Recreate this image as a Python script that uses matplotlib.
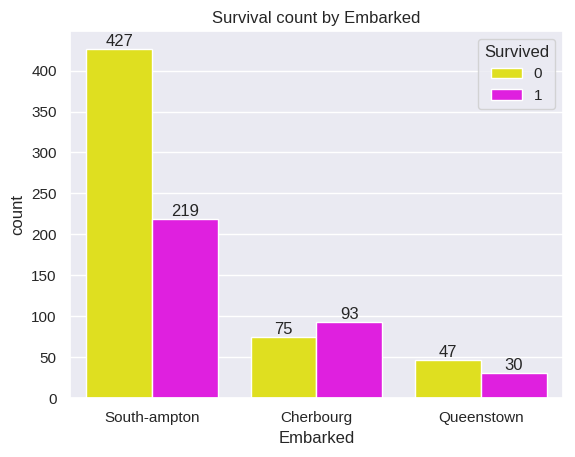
import matplotlib
matplotlib.use("Agg")
import matplotlib.pyplot as plt
import seaborn as sns
import pandas as pd

embarked = ["South-ampton", "Cherbourg", "Queenstown"]
survived = ["0", "1"]
counts_0 = [427, 75, 47]
counts_1 = [219, 93, 30]

sns.set_theme()
plt.rcParams['font.family'] = ['Liberation Sans', 'DejaVu Sans']
rows = []
for e, c0, c1 in zip(embarked, counts_0, counts_1):
    rows.append({"Embarked": e, "Survived": survived[0], "count": c0})
    rows.append({"Embarked": e, "Survived": survived[1], "count": c1})
df = pd.DataFrame(rows)

fig = plt.figure(figsize=(5.75, 4.57), dpi=100)
ax = fig.add_axes([0.1217, 0.1291, 0.8574, 0.803])
sns.barplot(data=df, x="Embarked", y="count", hue="Survived",
            palette=["yellow", "magenta"], saturation=0.75, ax=ax)
for cont in ax.containers:
    ax.bar_label(cont, fontsize=12)
ax.set_title("Survival count by Embarked", fontsize=12)
ax.set_xlabel("Embarked")
ax.set_ylabel("count")
ax.legend(title="Survived", loc="upper right", fontsize=11, title_fontsize=12)
fig.savefig("out.png", dpi=100)
